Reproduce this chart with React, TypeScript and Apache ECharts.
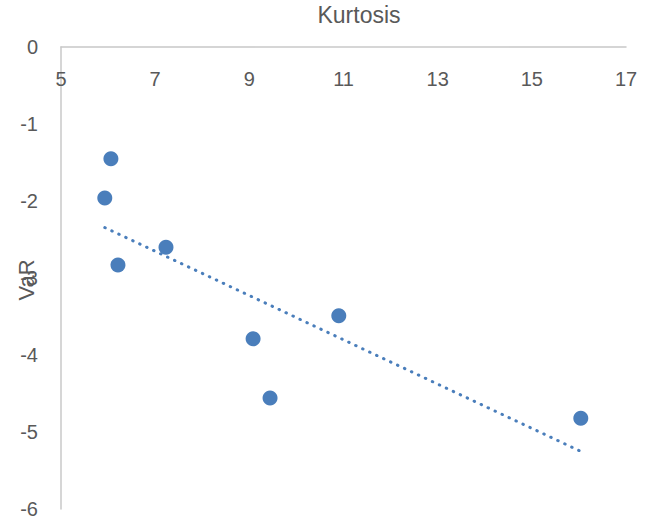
import React, { useEffect, useRef } from "react";
import * as echarts from "echarts";

const kurtosis = [5.93, 6.06, 6.21, 7.23, 9.08, 9.44, 10.9, 16.04];
const valueAtRisk = [-1.96, -1.45, -2.83, -2.6, -3.79, -4.56, -3.49, -4.82];
const xTitle = "Kurtosis";
const yTitle = "VaR";

function linearFit(xs: number[], ys: number[]) {
  const n = xs.length;
  const mx = xs.reduce((a, b) => a + b, 0) / n;
  const my = ys.reduce((a, b) => a + b, 0) / n;
  let sxy = 0;
  let sxx = 0;
  for (let i = 0; i < n; i++) {
    sxy += (xs[i] - mx) * (ys[i] - my);
    sxx += (xs[i] - mx) * (xs[i] - mx);
  }
  const slope = sxy / sxx;
  return { slope, intercept: my - slope * mx };
}

export default function App() {
  const ref = useRef<HTMLDivElement>(null);
  useEffect(() => {
    if (!ref.current) return;
    const chart = echarts.init(ref.current, undefined, { renderer: "svg" });
    const fit = linearFit(kurtosis, valueAtRisk);
    const xMin = Math.min(...kurtosis);
    const xMax = Math.max(...kurtosis);
    const trend = [
      [xMin, fit.intercept + fit.slope * xMin],
      [xMax, fit.intercept + fit.slope * xMax],
    ];
    const font = "'Liberation Sans', Arial, sans-serif";
    chart.setOption({
      animation: false,
      backgroundColor: "#ffffff",
      textStyle: { fontFamily: font },
      grid: {
        left: 61,
        right: 28,
        top: 47,
        bottom: 16,
        containLabel: false,
        outerBoundsMode: "none",
      },
      graphic: [
        {
          type: "text",
          x: 359,
          y: 15,
          z: 10,
          style: {
            text: xTitle,
            fill: "#595959",
            font: `23px ${font}`,
            textAlign: "center",
            textVerticalAlign: "middle",
          },
        },
        {
          type: "text",
          x: 26,
          y: 280,
          rotation: Math.PI / 2,
          z: 10,
          style: {
            text: yTitle,
            fill: "#595959",
            font: `22px ${font}`,
            textAlign: "center",
            textVerticalAlign: "middle",
          },
        },
      ],
      xAxis: {
        type: "value",
        position: "top",
        min: 5,
        max: 17,
        interval: 1,
        splitLine: { show: false },
        axisTick: { show: false },
        axisLine: { show: true, onZero: false, lineStyle: { color: "#c8c8c8", width: 1.5 } },
        axisLabel: {
          inside: true,
          margin: 22,
          color: "#595959",
          fontSize: 20,
          fontFamily: font,
          formatter: (v: number) => ((v - 5) % 2 === 0 ? String(v) : ""),
        },
      },
      yAxis: {
        type: "value",
        min: -6,
        max: 0,
        interval: 1,
        splitLine: { show: false },
        axisTick: { show: false },
        axisLine: { show: true, onZero: false, lineStyle: { color: "#c8c8c8", width: 1.5 } },
        axisLabel: { margin: 23, color: "#595959", fontSize: 20, fontFamily: font },
      },
      series: [
        {
          type: "line",
          data: trend,
          showSymbol: false,
          symbol: "none",
          z: 1,
          lineStyle: { color: "#4a7ebb", width: 3, type: [0.5, 7.2], cap: "round" },
          silent: true,
        },
        {
          type: "scatter",
          data: kurtosis.map((x, i) => [x, valueAtRisk[i]]),
          symbolSize: 15,
          z: 3,
          itemStyle: { color: "#4a7ebb", opacity: 1 },
        },
      ],
    });
    return () => chart.dispose();
  }, []);
  return (
    <div
      ref={ref}
      style={{ position: "fixed", left: 0, top: 0, width: 654, height: 525 }}
    />
  );
}
